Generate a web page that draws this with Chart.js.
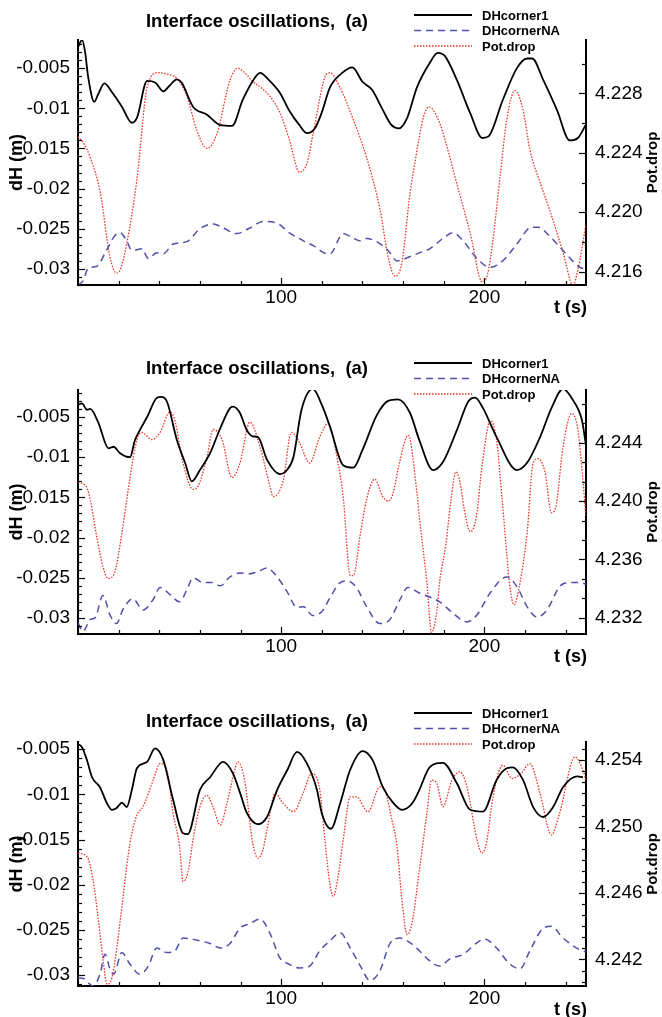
<!DOCTYPE html>
<html>
<head>
<meta charset="utf-8">
<script src="https://cdn.jsdelivr.net/npm/chart.js@4/dist/chart.umd.min.js"></script>
<style>
  body { margin: 0; background: #fff; }
  canvas { position: absolute; left: 0; }
</style>
</head>
<body>
<canvas id="c1" width="662" height="335" style="top:0px"></canvas>
<canvas id="c2" width="662" height="355" style="top:335px"></canvas>
<canvas id="c3" width="662" height="327" style="top:690px"></canvas>
<script>
// series labels
const seriesNames = ['DHcorner1', 'DHcornerNA', 'Pot.drop'];

// panel 1: [t (s), value]
const p1Black = [[0,-0.0024],[2,-0.0015],[3.5,-0.0030],[5,-0.0061],[8,-0.0092],[10,-0.0082],[13,-0.0069],[17,-0.0081],[21.6,-0.0098],[26.5,-0.0118],[29,-0.0112],[34,-0.0066],[38,-0.0068],[42,-0.0079],[45,-0.0072],[48.7,-0.0064],[51,-0.0068],[56.6,-0.0098],[63.5,-0.0108],[70,-0.0121],[75.8,-0.0122],[81,-0.0090],[86,-0.0066],[89.6,-0.0056],[94,-0.0065],[99.4,-0.0081],[104,-0.0103],[109,-0.0121],[112.7,-0.0131],[116.6,-0.0125],[120,-0.0105],[124,-0.0074],[130,-0.0056],[135,-0.0049],[140,-0.0067],[144.7,-0.0077],[150,-0.0102],[154,-0.0120],[158,-0.0125],[162,-0.0112],[166.8,-0.0074],[173,-0.0044],[177,-0.0031],[180.6,-0.0035],[186.5,-0.0065],[193,-0.0106],[199,-0.0137],[202,-0.0135],[209,-0.0090],[216,-0.0050],[221,-0.0038],[223.5,-0.0038],[229,-0.0065],[235.7,-0.0102],[242,-0.0140],[246,-0.0137],[250,-0.0120]];
const p1Blue = [[0,-0.0320],[2.5,-0.0315],[5,-0.0299],[9,-0.0297],[14,-0.0277],[18,-0.0259],[20.7,-0.0255],[24,-0.0265],[26.5,-0.0277],[31.5,-0.0275],[34.6,-0.0287],[38.7,-0.0280],[42,-0.0281],[46.8,-0.0269],[53.6,-0.0266],[60,-0.0250],[66.6,-0.0244],[71.5,-0.0249],[78,-0.0256],[84.6,-0.0249],[91,-0.0241],[97.8,-0.0243],[104,-0.0255],[111,-0.0265],[115.8,-0.0271],[122.5,-0.0281],[124,-0.0281],[130.5,-0.0256],[135,-0.0261],[138.8,-0.0265],[142,-0.0262],[147.6,-0.0267],[152.6,-0.0277],[157,-0.0290],[162,-0.0286],[168,-0.0280],[173,-0.0275],[179.6,-0.0262],[184.5,-0.0255],[189.5,-0.0265],[196,-0.0286],[202.8,-0.0298],[209,-0.0290],[216,-0.0269],[222.4,-0.0249],[226.4,-0.0248],[232,-0.0259],[238.7,-0.0277],[247,-0.0298],[250,-0.0300]];
const p1Red = [[0,4.2251],[3,4.2246],[6,4.2237],[11,4.2213],[15.7,4.2170],[19,4.2159],[21,4.2162],[24,4.2179],[29,4.2222],[34,4.2284],[39.4,4.2294],[44,4.2293],[48.7,4.2290],[53.6,4.2278],[58.5,4.2255],[63.5,4.2243],[68.4,4.2253],[74.8,4.2289],[78.7,4.2297],[82,4.2294],[86,4.2288],[90,4.2284],[94.5,4.2278],[99.4,4.2267],[104,4.2249],[109,4.2227],[112.7,4.2233],[116,4.2255],[121.5,4.2291],[124,4.2294],[129,4.2284],[135,4.2264],[142,4.2237],[148.6,4.2202],[152.6,4.2170],[156,4.2157],[159.4,4.2166],[163.4,4.2213],[166,4.2235],[170,4.2264],[172.7,4.2271],[178,4.2260],[183,4.2237],[185.5,4.2224],[193,4.2186],[199,4.2153],[201.5,4.2158],[204,4.2179],[207.7,4.2224],[211,4.2262],[215,4.2282],[219,4.2269],[222.4,4.2242],[227.4,4.2220],[232,4.2202],[238.7,4.2173],[243.6,4.2151],[246,4.2161],[250,4.2192]];

// panel 2
const p2Black = [[0,-0.0035],[2,-0.0033],[4.4,-0.0041],[6,-0.0040],[10,-0.0057],[15,-0.0089],[17.5,-0.0087],[20.7,-0.0095],[25.6,-0.0100],[28,-0.0079],[30.5,-0.0066],[34,-0.0050],[38.9,-0.0026],[41,-0.0025],[43.8,-0.0031],[48.7,-0.0079],[52.7,-0.0107],[56,-0.0130],[60,-0.0116],[65,-0.0095],[70,-0.0064],[74.8,-0.0039],[76.3,-0.0037],[79.7,-0.0045],[83,-0.0066],[86,-0.0074],[88.6,-0.0075],[93,-0.0103],[99.4,-0.0121],[102.8,-0.0116],[106,-0.0100],[110,-0.0041],[115.6,-0.0015],[120,-0.0035],[124,-0.0062],[130.5,-0.0110],[135.5,-0.0113],[140,-0.0091],[147,-0.0048],[152.6,-0.0030],[157.5,-0.0028],[163.4,-0.0045],[168,-0.0079],[174.7,-0.0116],[179.6,-0.0106],[186.5,-0.0066],[192,-0.0031],[195.4,-0.0026],[199.3,-0.0039],[206,-0.0075],[216,-0.0116],[221,-0.0107],[227.4,-0.0075],[233,-0.0039],[238.7,-0.0015],[243.6,-0.0029],[248,-0.0054],[250,-0.0085]];
const p2Blue = [[0,-0.0306],[2.5,-0.0317],[6,-0.0302],[8.4,-0.0300],[11.6,-0.0274],[12.3,-0.0272],[15.7,-0.0296],[19,-0.0307],[22,-0.0290],[27,-0.0276],[32,-0.0290],[37,-0.0277],[40.4,-0.0262],[45.3,-0.0271],[50,-0.0280],[53.6,-0.0265],[56.6,-0.0250],[61.5,-0.0256],[66,-0.0256],[70,-0.0260],[74.8,-0.0249],[79.7,-0.0244],[84.6,-0.0245],[88,-0.0243],[93,-0.0238],[98,-0.0249],[102.8,-0.0267],[107.8,-0.0287],[111,-0.0286],[115.6,-0.0297],[120,-0.0292],[124,-0.0275],[129,-0.0256],[132.4,-0.0254],[137,-0.0262],[142,-0.0286],[148.6,-0.0307],[153.5,-0.0302],[158.5,-0.0277],[162.4,-0.0262],[168,-0.0269],[173,-0.0274],[178,-0.0280],[184.5,-0.0294],[191.4,-0.0305],[196.4,-0.0296],[202.8,-0.0269],[211,-0.0249],[216,-0.0261],[221,-0.0286],[226,-0.0299],[230.8,-0.0290],[237,-0.0261],[241,-0.0256],[247,-0.0256],[250,-0.0258]];
const p2Red = [[0,4.2413],[4.4,4.2409],[6,4.2401],[9.3,4.2375],[12.3,4.2355],[14.8,4.2347],[18,4.2351],[21.6,4.2378],[24,4.2401],[25.6,4.2416],[29,4.2442],[31.5,4.2447],[36.4,4.2442],[40.4,4.2447],[45.3,4.2461],[47.7,4.2455],[51.7,4.2426],[56.6,4.2408],[59,4.2410],[63.5,4.2430],[66.4,4.2449],[70.9,4.2442],[75.8,4.2416],[79.7,4.2426],[84.6,4.2454],[89.6,4.2437],[94.5,4.2410],[96,4.2403],[101,4.2414],[105,4.2447],[109,4.2440],[114,4.2426],[119,4.2444],[123,4.2453],[128,4.2426],[130.5,4.2403],[134,4.2349],[135.5,4.2349],[139,4.2378],[142,4.2401],[146,4.2415],[150,4.2403],[152.6,4.2400],[155,4.2405],[158,4.2425],[162.5,4.2445],[167,4.2403],[168,4.2389],[171.7,4.2344],[174,4.2310],[176.6,4.2325],[178,4.2345],[181,4.2370],[183.5,4.2400],[186,4.2420],[188,4.2413],[190,4.2395],[193,4.2379],[196,4.2389],[199,4.2426],[203,4.2455],[206,4.2442],[208.6,4.2403],[212.6,4.2341],[214.6,4.2329],[217.5,4.2344],[221,4.2378],[224,4.2426],[226.4,4.2429],[229.8,4.2420],[233,4.2392],[235,4.2395],[238.7,4.2437],[243,4.2460],[246,4.2449],[248.5,4.2414],[250,4.2389]];

// panel 3
const p3Black = [[0,-0.0044],[2,-0.0048],[4.4,-0.0062],[6.9,-0.0081],[10.8,-0.0092],[14.3,-0.0110],[16.7,-0.0117],[19,-0.0115],[21.6,-0.0109],[24,-0.0114],[26.5,-0.0095],[29,-0.0071],[34,-0.0064],[37.9,-0.0049],[42,-0.0062],[46.8,-0.0106],[51.7,-0.0143],[54,-0.0144],[60,-0.0095],[65,-0.0081],[71.4,-0.0064],[76.3,-0.0077],[80,-0.0100],[83,-0.0120],[88.6,-0.0133],[93,-0.0125],[98,-0.0095],[103,-0.0073],[107.8,-0.0053],[112.7,-0.0066],[117.6,-0.0095],[120,-0.0121],[124.5,-0.0138],[129,-0.0110],[133.9,-0.0073],[140,-0.0052],[145,-0.0062],[150,-0.0092],[155,-0.0109],[159.4,-0.0117],[164.4,-0.0110],[168,-0.0095],[173,-0.0070],[179.6,-0.0065],[186.5,-0.0088],[193,-0.0117],[199.3,-0.0119],[206,-0.0084],[211,-0.0071],[214,-0.0070],[219,-0.0084],[224,-0.0114],[229,-0.0125],[233.8,-0.0114],[238.7,-0.0092],[245.6,-0.0080],[248.5,-0.0081]];
const p3Blue = [[0,-0.0303],[3,-0.0304],[7.4,-0.0312],[10.8,-0.0299],[13.3,-0.0277],[15.7,-0.0293],[17.5,-0.0299],[21.6,-0.0275],[25.6,-0.0288],[30.5,-0.0299],[34.6,-0.0290],[38.7,-0.0270],[43.8,-0.0275],[47.7,-0.0273],[51.7,-0.0259],[60,-0.0262],[65,-0.0265],[70,-0.0270],[74.8,-0.0265],[79.7,-0.0248],[84.6,-0.0243],[89.6,-0.0238],[94.5,-0.0254],[99.4,-0.0281],[104,-0.0288],[109,-0.0292],[114,-0.0290],[119,-0.0273],[124,-0.0262],[129,-0.0253],[134,-0.0270],[139,-0.0290],[143.7,-0.0306],[148.6,-0.0295],[153.5,-0.0265],[158.5,-0.0259],[163.4,-0.0264],[168,-0.0273],[173,-0.0284],[178,-0.0290],[183,-0.0282],[189.5,-0.0277],[196.4,-0.0264],[200,-0.0260],[206,-0.0270],[212.6,-0.0288],[217.5,-0.0293],[222.4,-0.0273],[229,-0.0248],[233,-0.0246],[238.7,-0.0259],[247,-0.0272],[250,-0.0274]];
const p3Red = [[0,4.2484],[4.4,4.2482],[7.4,4.2468],[9.8,4.2446],[12.3,4.2420],[14.3,4.2405],[16.7,4.2409],[19,4.2426],[22,4.2456],[24.6,4.2482],[26.5,4.2496],[29,4.2507],[32,4.2512],[37,4.2528],[40.4,4.2538],[43.8,4.2534],[46.8,4.2508],[50,4.2488],[51.7,4.2467],[54,4.2472],[57,4.2495],[60,4.2512],[63.5,4.2519],[66.4,4.2512],[70,4.2501],[73.3,4.2514],[76.3,4.2530],[78.7,4.2539],[82,4.2528],[86,4.2490],[88.6,4.2481],[91,4.2486],[93,4.2498],[97,4.2520],[101,4.2514],[106,4.2509],[110.7,4.2520],[115,4.2532],[119,4.2522],[121.5,4.2492],[124,4.2465],[125.6,4.2458],[128,4.2470],[130.5,4.2492],[134,4.2518],[137,4.2518],[142.7,4.2509],[148.6,4.2524],[150,4.2524],[154.5,4.2504],[157,4.2488],[159.4,4.2456],[162,4.2435],[164.4,4.2442],[168,4.2474],[171.7,4.2508],[174,4.2528],[176.6,4.2526],[179.6,4.2512],[184,4.2528],[188,4.2533],[191.4,4.2524],[196.4,4.2492],[198.8,4.2484],[201,4.2490],[204,4.2516],[209,4.2537],[213.6,4.2529],[218,4.2532],[222.4,4.2538],[227.4,4.2520],[233,4.2495],[237,4.2508],[244.6,4.2542],[248.5,4.2534],[250,4.2528]];

// axis ranges and tick spacing
const tRange = [0, 250];
const dhRanges = [[-0.032, -0.0015], [-0.032, -0.00164], [-0.0312, -0.0042]];
const potRanges = [[4.2151, 4.2316], [4.2309, 4.2476], [4.2404, 4.2551]];
const potLabelBase = [4.216, 4.232, 4.242];
const potMinorDiv = [2, 3, 6];

const FONT = '"Liberation Sans", Arial, Helvetica, sans-serif';
const styles = [
  { color: '#000000', width: 1.8, dash: [] },
  { color: '#5050a8', width: 1.5, dash: [7, 5] },
  { color: 'rgb(238,48,36)', width: 1.3, dash: [1.5, 1.5] }
];

const layouts = [
  { id: 'c1', plotTop: 40, plotBottom: 285, titleY: 22, legendY: 15, xTitleY: 308 },
  { id: 'c2', plotTop: 55, plotBottom: 299, titleY: 34, legendY: 28, xTitleY: 322 },
  { id: 'c3', plotTop: 52, plotBottom: 296, titleY: 32, legendY: 23, xTitleY: 320 }
];
const panelData = [[p1Black, p1Blue, p1Red], [p2Black, p2Blue, p2Red], [p3Black, p3Blue, p3Red]];

function stepValues(min, max, base, step) {
  const out = [];
  const k0 = Math.ceil((min - base) / step - 1e-9);
  for (let k = k0; base + k * step <= max + 1e-9; k++) out.push(+(base + k * step).toFixed(6));
  return out;
}
const isMult = (v, base, step) => {
  const r = (v - base) / step;
  return Math.abs(r - Math.round(r)) < 1e-4;
};

const decor = {
  id: 'decor',
  afterDraw(chart, args, o) {
    const ctx = chart.ctx, a = chart.chartArea;
    ctx.save();
    // inward tick marks
    ctx.strokeStyle = '#000';
    ctx.lineWidth = 1.2;
    ['x', 'y', 'y1'].forEach(id => {
      const s = chart.scales[id];
      s.ticks.forEach(t => {
        const len = t.label ? 7 : 4;
        const p = Math.round(s.getPixelForValue(t.value)) + 0.5;
        ctx.beginPath();
        if (id === 'x') { ctx.moveTo(p, a.bottom); ctx.lineTo(p, a.bottom - len); }
        else if (id === 'y') { ctx.moveTo(a.left, p); ctx.lineTo(a.left + len, p); }
        else { ctx.moveTo(a.right, p); ctx.lineTo(a.right - len, p); }
        ctx.stroke();
      });
    });
    ctx.fillStyle = '#000';
    // title
    ctx.font = 'bold 18.5px ' + FONT;
    ctx.textAlign = 'center';
    ctx.textBaseline = 'middle';
    ctx.fillText('Interface oscillations,  (a)', 257, o.titleY);
    // legend
    chart.data.datasets.forEach((ds, i) => {
      const y = o.legendY + i * 15.5;
      ctx.save();
      ctx.strokeStyle = ds.borderColor;
      ctx.lineWidth = ds.borderWidth;
      ctx.setLineDash(ds.borderDash);
      ctx.beginPath(); ctx.moveTo(414, y); ctx.lineTo(472, y); ctx.stroke();
      ctx.restore();
      ctx.font = 'bold 13px ' + FONT;
      ctx.textAlign = 'left';
      ctx.fillText(ds.label, 482, y + 1);
    });
    // axis titles
    const mid = (a.top + a.bottom) / 2;
    ctx.textAlign = 'center';
    ctx.save();
    ctx.translate(17, mid); ctx.rotate(-Math.PI / 2);
    ctx.font = 'bold 18px ' + FONT;
    ctx.fillText('dH (m)', 0, 0);
    ctx.restore();
    ctx.save();
    ctx.translate(653, mid); ctx.rotate(-Math.PI / 2);
    ctx.font = 'bold 15px ' + FONT;
    ctx.fillText('Pot.drop', 0, 0);
    ctx.restore();
    ctx.font = 'bold 18px ' + FONT;
    ctx.textAlign = 'right';
    ctx.fillText('t (s)', 587, o.xTitleY);
    ctx.restore();
  }
};

layouts.forEach((L, i) => {
  const canvas = document.getElementById(L.id);
  const H = canvas.height;
  const [dMin, dMax] = dhRanges[i];
  const [pMin, pMax] = potRanges[i];
  const pBase = potLabelBase[i];
  const pStep = 0.004 / potMinorDiv[i];
  const datasets = panelData[i].map((pts, k) => ({
    label: seriesNames[k],
    data: pts.map(([t, v]) => ({ x: t, y: v })),
    yAxisID: k === 2 ? 'y1' : 'y',
    borderColor: styles[k].color,
    borderWidth: styles[k].width,
    borderDash: styles[k].dash,
    pointRadius: 0,
    fill: false,
    cubicInterpolationMode: 'monotone'
  }));
  new Chart(canvas, {
    type: 'line',
    data: { datasets },
    plugins: [decor],
    options: {
      responsive: false,
      devicePixelRatio: 1,
      animation: false,
      layout: { padding: { top: L.plotTop, bottom: 0, left: 0, right: 0 } },
      plugins: { legend: { display: false }, tooltip: { enabled: false }, decor: L },
      scales: {
        x: {
          type: 'linear', min: tRange[0], max: tRange[1],
          grid: { display: false, drawTicks: false },
          border: { display: true, color: '#000', width: 2 },
          ticks: {
            autoSkip: false, maxRotation: 0, padding: 1, color: '#000',
            font: { family: FONT, size: 19 },
            callback: v => (v > 0 && v % 100 === 0) ? String(v) : ''
          },
          afterBuildTicks: s => { s.ticks = stepValues(tRange[0], tRange[1], 0, 20).map(v => ({ value: v })); },
          afterFit: s => { s.height = H - L.plotBottom; }
        },
        y: {
          type: 'linear', position: 'left', min: dMin, max: dMax,
          grid: { display: false, drawTicks: false },
          border: { display: true, color: '#000', width: 2 },
          ticks: {
            autoSkip: false, padding: 8, color: '#000',
            font: { family: FONT, size: 19 },
            callback: v => isMult(v, 0, 0.005) ? String(+v.toFixed(3)) : ''
          },
          afterBuildTicks: s => { s.ticks = stepValues(dMin, dMax, 0, 0.001).map(v => ({ value: v })); },
          afterFit: s => { s.width = 78; }
        },
        y1: {
          type: 'linear', position: 'right', min: pMin, max: pMax,
          grid: { display: false, drawTicks: false },
          border: { display: true, color: '#000', width: 2 },
          ticks: {
            autoSkip: false, padding: 9, color: '#000',
            font: { family: FONT, size: 19 },
            callback: v => isMult(v, pBase, 0.004) ? v.toFixed(3) : ''
          },
          afterBuildTicks: s => { s.ticks = stepValues(pMin, pMax, pBase, pStep).map(v => ({ value: v })); },
          afterFit: s => { s.width = 662 - 586; }
        }
      }
    }
  });
});
</script>
</body>
</html>
